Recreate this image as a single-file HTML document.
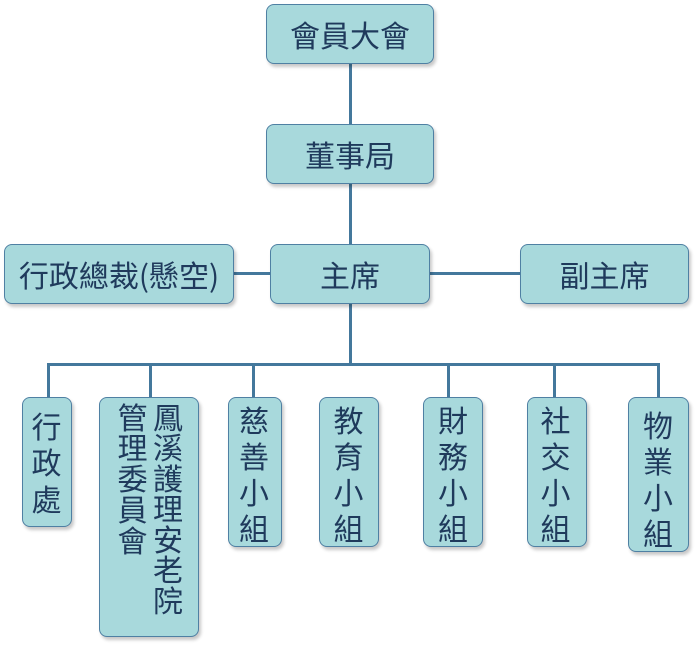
<!DOCTYPE html>
<html><head><meta charset="utf-8">
<style>
body{margin:0;background:#fff;width:696px;height:645px;position:relative;overflow:hidden;font-family:"Liberation Sans","Noto Sans CJK TC",sans-serif;}
.b{position:absolute;box-sizing:border-box;background:#a8d9dc;border:1.5px solid #4f80a3;border-radius:8px;box-shadow:2px 3px 3px rgba(0,0,0,0.22);color:#1f3a5c;}
.h{display:flex;align-items:center;justify-content:center;font-size:30px;font-family:"Noto Sans CJK TC","Liberation Sans",sans-serif;}
.v{position:absolute;font-size:30px;line-height:36.5px;text-align:center;width:30px;font-family:"Noto Sans CJK TC",sans-serif;}
.l{position:absolute;background:#44789c;}
</style></head><body>
<!-- connectors -->
<div class="l" style="left:349px;top:64px;width:3px;height:60px"></div>
<div class="l" style="left:349px;top:184px;width:3px;height:60px"></div>
<div class="l" style="left:349px;top:304px;width:3px;height:62px"></div>
<div class="l" style="left:234px;top:272px;width:36px;height:3px"></div>
<div class="l" style="left:430px;top:272px;width:91px;height:3px"></div>
<div class="l" style="left:47px;top:363px;width:612px;height:3px"></div>
<div class="l" style="left:47px;top:363px;width:3px;height:34px"></div>
<div class="l" style="left:149px;top:363px;width:3px;height:34px"></div>
<div class="l" style="left:252px;top:363px;width:3px;height:34px"></div>
<div class="l" style="left:447px;top:363px;width:3px;height:34px"></div>
<div class="l" style="left:553px;top:363px;width:3px;height:34px"></div>
<div class="l" style="left:657px;top:363px;width:3px;height:34px"></div>

<div class="b h" style="left:266px;top:4px;width:168px;height:60px">會員大會</div>
<div class="b h" style="left:266px;top:124px;width:168px;height:60px">董事局</div>
<div class="b h" style="left:270px;top:244px;width:160px;height:60px">主席</div>
<div class="b h" style="left:4px;top:244px;width:230px;height:60px">行政總裁(懸空)</div>
<div class="b h" style="left:520px;top:244px;width:169px;height:60px">副主席</div>

<div class="b" style="left:22px;top:397px;width:50px;height:130px"><div class="v" style="left:8.5px;top:8.5px">行<br>政<br>處</div></div>
<div class="b" style="left:99px;top:397px;width:100px;height:240px">
<div class="v" style="left:53px;top:2.5px;line-height:30.5px">鳳<br>溪<br>護<br>理<br>安<br>老<br>院</div>
<div class="v" style="left:17.5px;top:2.5px;line-height:30.8px">管<br>理<br>委<br>員<br>會</div>
</div>
<div class="b" style="left:228px;top:397px;width:54px;height:150px"><div class="v" style="left:10px;top:2.5px;line-height:36px">慈<br>善<br>小<br>組</div></div>
<div class="b" style="left:319px;top:397px;width:60px;height:150px"><div class="v" style="left:13.5px;top:2.5px;line-height:36px">教<br>育<br>小<br>組</div></div>
<div class="b" style="left:423px;top:397px;width:60px;height:150px"><div class="v" style="left:14px;top:2.5px;line-height:36px">財<br>務<br>小<br>組</div></div>
<div class="b" style="left:527px;top:397px;width:60px;height:150px"><div class="v" style="left:12.5px;top:2.5px;line-height:36px">社<br>交<br>小<br>組</div></div>
<div class="b" style="left:628px;top:397px;width:61px;height:155px"><div class="v" style="left:14px;top:7.5px;line-height:36px">物<br>業<br>小<br>組</div></div>
</body></html>
